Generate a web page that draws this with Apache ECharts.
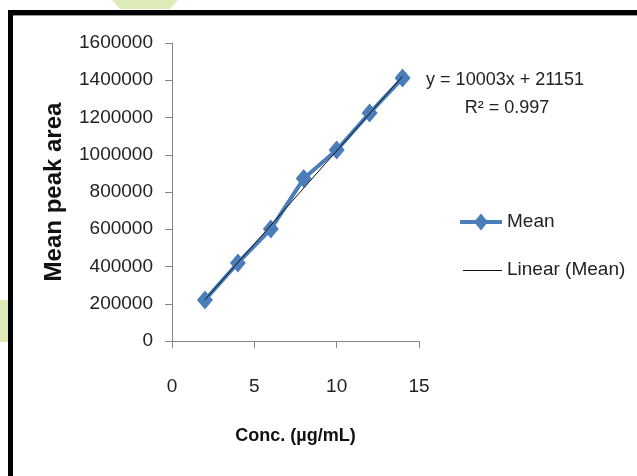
<!DOCTYPE html>
<html>
<head>
<meta charset="utf-8">
<script src="https://cdn.jsdelivr.net/npm/echarts@6/dist/echarts.min.js"></script>
<style>
  html, body { margin: 0; padding: 0; background: #fff; }
  #chart { width: 637px; height: 476px; }
</style>
</head>
<body>
<div id="chart"></div>
<script>
// Courbe d'étalonnage : aire moyenne du pic en fonction de la concentration
const concentrations = [2, 4, 6, 8, 10, 12, 14];
const meanArea = [220000, 419000, 601000, 872000, 1025000, 1224000, 1412000];
// droite de tendance (extrémités)
const trendX = [2, 14];
const trendY = [221000, 1421000];
const xTicks = [0, 5, 10, 15];
const yTicks = [0, 200000, 400000, 600000, 800000, 1000000, 1200000, 1400000, 1600000];
const seriesNames = ["Mean", "Linear (Mean)"];
const equation = "y = 10003x + 21151";
const rSquared = "R² = 0.997";

const police = "'Liberation Sans', Arial, sans-serif";
const axe = "#868686";
const bleu = "#4a7ebb";
const encre = "#222";

const chart = echarts.init(document.getElementById("chart"), null, { renderer: "canvas" });

// petit losange pour la légende dessinée à la main
function losange(cx, cy, w, h) {
  return [[cx, cy - h / 2], [cx + w / 2, cy], [cx, cy + h / 2], [cx - w / 2, cy]];
}

chart.setOption({
  animation: false,
  backgroundColor: "#fff",
  textStyle: { fontFamily: police, color: encre },
  grid: { left: 172, top: 43, width: 247, height: 298 },
  xAxis: {
    type: "value",
    min: xTicks[0],
    max: xTicks[xTicks.length - 1],
    interval: xTicks[1] - xTicks[0],
    name: "Conc. (µg/mL)",
    nameLocation: "middle",
    nameGap: 86,
    nameTextStyle: { fontFamily: police, fontWeight: "bold", fontSize: 18, color: "#111" },
    splitLine: { show: false },
    axisLine: { lineStyle: { color: axe, width: 1 } },
    axisTick: { length: 7, lineStyle: { color: axe } },
    axisLabel: { margin: 36, fontSize: 19, color: encre, fontFamily: police },
  },
  yAxis: {
    type: "value",
    min: yTicks[0],
    max: yTicks[yTicks.length - 1],
    interval: yTicks[1] - yTicks[0],
    name: "Mean peak area",
    nameLocation: "middle",
    nameGap: 106,
    nameTextStyle: { fontFamily: police, fontWeight: "bold", fontSize: 24, color: "#111" },
    splitLine: { show: false },
    axisLine: { show: true, lineStyle: { color: axe, width: 1 } },
    axisTick: { show: true, length: 7, lineStyle: { color: axe } },
    axisLabel: { margin: 19, fontSize: 19, color: encre, fontFamily: police, formatter: (v) => String(v) },
  },
  series: [
    {
      name: seriesNames[0],
      type: "line",
      data: concentrations.map((c, i) => [c, meanArea[i]]),
      symbol: "diamond",
      symbolSize: [16, 19],
      showAllSymbol: true,
      lineStyle: { color: bleu, width: 4 },
      itemStyle: { color: bleu },
      z: 2,
    },
    {
      name: seriesNames[1],
      type: "line",
      data: trendX.map((c, i) => [c, trendY[i]]),
      symbol: "none",
      lineStyle: { color: "#111", width: 1 },
      itemStyle: { color: "#111" },
      z: 3,
    },
  ],
  graphic: [
    // filigrane vert pâle hors du cadre
    { type: "polygon", shape: { points: [[112, 0], [178, 0], [170, 9], [120, 9]] }, style: { fill: "#cfe29a", opacity: 0.7 }, z: 0 },
    { type: "rect", shape: { x: 0, y: 300, width: 9, height: 42 }, style: { fill: "#d5e6a3", opacity: 0.8 }, z: 0 },
    // cadre noir
    { type: "rect", shape: { x: 10.5, y: 12.5, width: 640, height: 480 }, style: { fill: null, stroke: "#000", lineWidth: 5 }, z: 10 },
    { type: "line", shape: { x1: 13, y1: 15.5, x2: 637, y2: 15.5 }, style: { stroke: "#999", lineWidth: 1 }, z: 10 },
    // équation de la droite
    { type: "text", x: 505, y: 80, style: { text: equation, fontSize: 18, fontFamily: police, fill: encre, align: "center", verticalAlign: "middle" }, z: 5 },
    { type: "text", x: 507, y: 108, style: { text: rSquared, fontSize: 18, fontFamily: police, fill: encre, align: "center", verticalAlign: "middle" }, z: 5 },
    // légende
    { type: "line", shape: { x1: 460, y1: 222, x2: 502, y2: 222 }, style: { stroke: bleu, lineWidth: 4 }, z: 5 },
    { type: "polygon", shape: { points: losange(481, 222, 14, 17) }, style: { fill: bleu }, z: 5 },
    { type: "text", x: 507, y: 222, style: { text: seriesNames[0], fontSize: 19, fontFamily: police, fill: encre, verticalAlign: "middle" }, z: 5 },
    { type: "line", shape: { x1: 463, y1: 270.5, x2: 502, y2: 270.5 }, style: { stroke: "#111", lineWidth: 1 }, z: 5 },
    { type: "text", x: 507, y: 270, style: { text: seriesNames[1], fontSize: 19, fontFamily: police, fill: encre, verticalAlign: "middle" }, z: 5 },
  ],
});
</script>
</body>
</html>
